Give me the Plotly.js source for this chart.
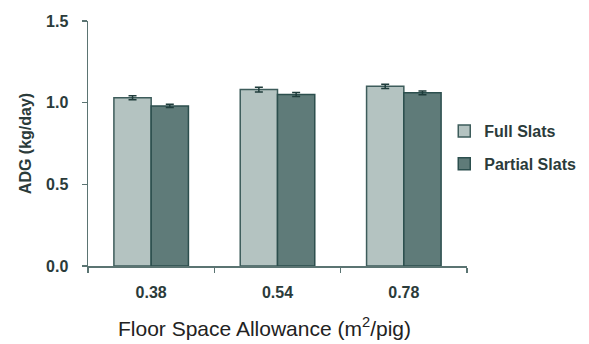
<!DOCTYPE html>
<html>
<head>
<meta charset="utf-8">
<script src="https://cdn.plot.ly/plotly-3.0.1.min.js"></script>
<style>
  html, body { margin: 0; padding: 0; background: #ffffff; }
  #chart { width: 589px; height: 344px; }
</style>
</head>
<body>
<div id="chart"></div>
<script>
// Average daily gain by floor space allowance and flooring type
const categories = ['0.38', '0.54', '0.78'];
const fullSlats = [1.03, 1.08, 1.10];
const fullSlatsErr = [0.012, 0.015, 0.013];
const partialSlats = [0.98, 1.05, 1.06];
const partialSlatsErr = [0.010, 0.012, 0.012];
const yTicks = [0, 0.5, 1.0, 1.5];
const yTickLabels = ['0.0', '0.5', '1.0', '1.5'];

const axisColor = '#5b7472';
const outline = '#2c4f4e';
const textColor = '#2b3b3a';

const traces = [
  {
    type: 'bar', name: 'Full Slats', legendgroup: 'a',
    x: categories, y: fullSlats,
    marker: { color: '#b4c3c1', line: { color: '#3d5c5b', width: 1.5 } },
    error_y: { type: 'data', array: fullSlatsErr, color: '#1f3c3b', thickness: 1.5, width: 4 }
  },
  {
    type: 'bar', name: 'Partial Slats', legendgroup: 'b',
    x: categories, y: partialSlats,
    marker: { color: '#5f7b79', line: { color: outline, width: 1.5 } },
    error_y: { type: 'data', array: partialSlatsErr, color: '#1f3c3b', thickness: 1.5, width: 4 }
  }
];

const layout = {
  width: 589, height: 344,
  margin: { l: 88, r: 122, t: 21, b: 78, autoexpand: false },
  paper_bgcolor: '#ffffff', plot_bgcolor: '#ffffff',
  font: { family: 'Liberation Sans, Arial, sans-serif', color: textColor },
  barmode: 'group', bargap: 0.41, bargroupgap: 0,
  showlegend: true,
  legend: {
    x: 0.94, xanchor: 'left', y: 0.62, yanchor: 'top',
    font: { size: 16, weight: 'bold', color: textColor },
    tracegroupgap: 9, itemwidth: 30, bgcolor: 'rgba(0,0,0,0)'
  },
  xaxis: {
    type: 'category', showline: true, linecolor: axisColor, linewidth: 1.5,
    ticks: 'outside', tickson: 'boundaries', ticklen: 5, tickcolor: axisColor, tickwidth: 1.5,
    ticklabelstandoff: 11,
    tickfont: { size: 16, weight: 'bold', color: textColor },
    showgrid: false, zeroline: false, fixedrange: true
  },
  yaxis: {
    range: [0, 1.5], tickvals: yTicks, ticktext: yTickLabels,
    showline: true, linecolor: axisColor, linewidth: 1.5,
    ticks: 'outside', ticklen: 5, tickcolor: axisColor, tickwidth: 1.5,
    ticklabelstandoff: 10,
    tickfont: { size: 16, weight: 'bold', color: textColor },
    showgrid: false, zeroline: false, fixedrange: true,
    title: { text: 'ADG (kg/day)', font: { size: 16, weight: 'bold', color: textColor }, standoff: 10 }
  },
  annotations: [
    {
      text: 'Floor Space Allowance (m<sup>2</sup>/pig)',
      xref: 'paper', yref: 'paper', x: 0.467, y: -0.249,
      xanchor: 'center', yanchor: 'middle', showarrow: false,
      font: { size: 21, color: '#222222' }
    }
  ]
};

Plotly.newPlot('chart', traces, layout, { displayModeBar: false, staticPlot: true });
</script>
</body>
</html>
